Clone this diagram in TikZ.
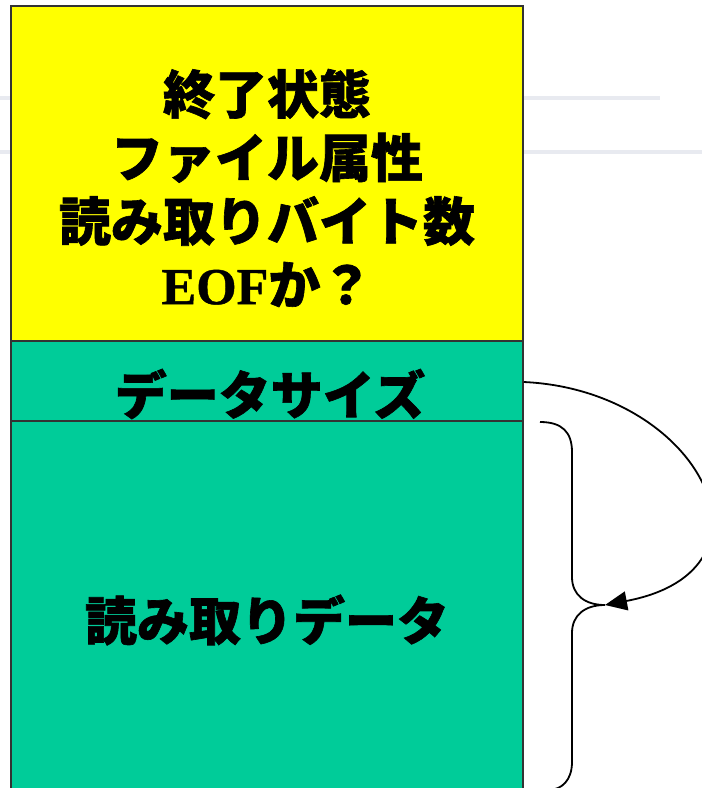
\documentclass[tikz,border=0pt]{standalone}
\usepackage{fontspec}
\setmainfont{Noto Sans CJK JP}
\newfontfamily\jp[BoldFeatures={FakeBold=1.2}]{Noto Sans CJK JP}
\newfontfamily\tms[BoldFeatures={FakeBold=0.8}]{Liberation Serif}
\usetikzlibrary{arrows.meta}
\definecolor{hdryellow}{HTML}{FFFF00}
\definecolor{datagreen}{HTML}{00CC99}
\definecolor{edgegray}{HTML}{333333}
\definecolor{faint}{HTML}{E8EAF0}
\tikzset{
  field/.style={draw=edgegray, line width=1.5pt, inner sep=0pt, minimum width=512pt},
  lbl/.style={font=\jp\bfseries\fontsize{52}{63.5}\selectfont, align=center, inner sep=0pt, text=black},
  bgline/.style={draw=faint, line width=3.5pt},
  bracepath/.style={draw=black, line width=1.8pt},
  loopline/.style={draw=black, line width=1.8pt, -{Triangle[length=22pt,width=19pt]}}
}
\begin{document}
\begin{tikzpicture}[x=1pt,y=-1pt]
\useasboundingbox (0,0) rectangle (702,788);
\clip (0,0) rectangle (702,788);
\fill[white] (0,0) rectangle (702,788);
\draw[bgline] (0,98) -- (660,98);
\draw[bgline] (0,152) -- (702,152);
% fields
\node[field, fill=hdryellow, minimum height=335pt] (hdr) at (267,173.5) {};
\node[field, fill=datagreen, minimum height=80pt] (size) at (267,381) {};
\node[field, fill=datagreen, minimum height=399pt] (data) at (267,620.5) {};
% labels
\node[lbl] (hdrtext) at (267,188) {終了状態\\ファイル属性\\読み取りバイト数\\{\tms EOF}か？};
\node[lbl] (sizetext) at (270,394) {データサイズ};
\node[lbl] (datatext) at (267,620) {読み取りデータ};
% brace
\coordinate (btop) at (540,422);
\coordinate (btip) at (605,605);
\coordinate (bbot) at (548,790);
\draw[bracepath] (btop) .. controls (562,422) and (572,432) .. (572,452)
  -- (572,577) .. controls (572,595) and (585,605) .. (btip)
  .. controls (585,605) and (572,615) .. (572,633)
  -- (572,762) .. controls (572,780) and (562,790) .. (bbot);
% loop arrow
\coordinate (sizeout) at (size.east |- 0,382);
\draw[loopline] (sizeout) .. controls (700,390) and (790,570) .. (btip);
\end{tikzpicture}
\end{document}
